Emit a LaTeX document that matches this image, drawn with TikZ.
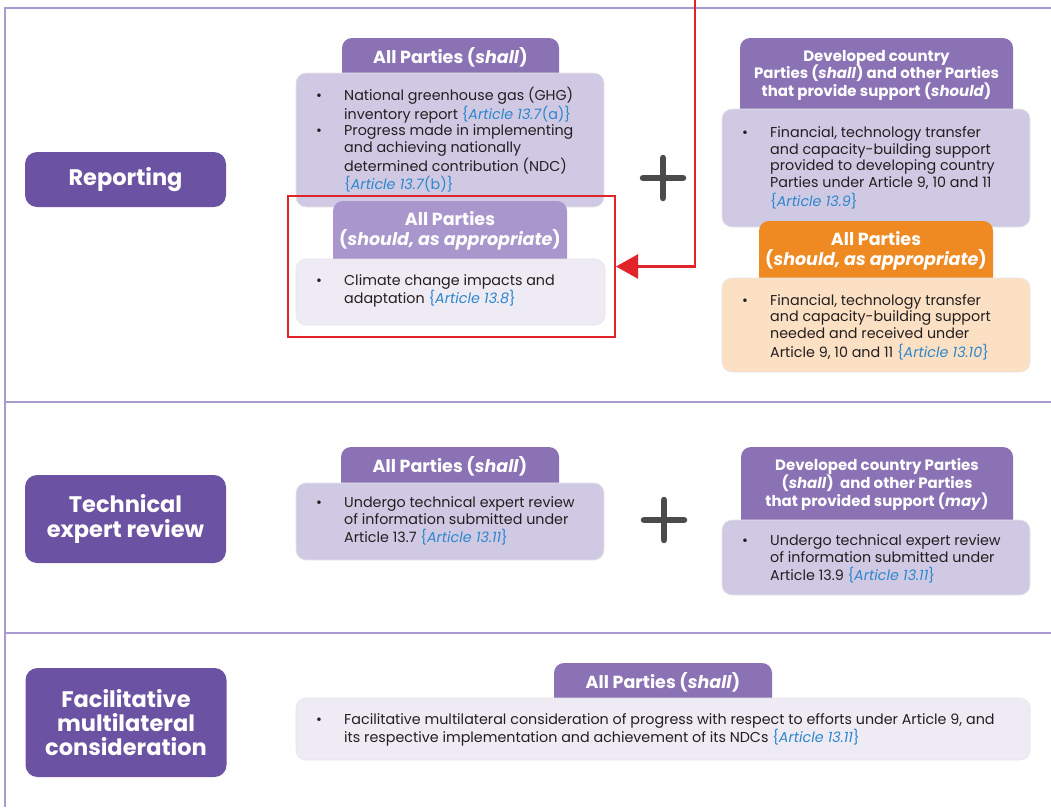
\documentclass[tikz,border=0pt]{standalone}
\usepackage{fontspec}
\setmainfont{Poppins}
\usetikzlibrary{arrows.meta}

\definecolor{labpurple}{HTML}{6B52A2}
\definecolor{tabpurple}{HTML}{8A72B5}
\definecolor{tablight}{HTML}{A996CC}
\definecolor{bodypurple}{HTML}{D0C9E4}
\definecolor{bodylight}{HTML}{EEEBF5}
\definecolor{taborange}{HTML}{EF8A23}
\definecolor{bodyorange}{HTML}{FCE0C3}
\definecolor{framepurple}{HTML}{A99AD4}
\definecolor{arrowred}{HTML}{E1232A}
\definecolor{refblue}{HTML}{2D87CC}
\definecolor{plusgray}{HTML}{4B4B4B}
\definecolor{txtdark}{HTML}{231F20}

\newcommand{\artref}[2]{\textcolor{refblue}{\{\textit{Article #1}#2\}}}
\newcommand{\bullist}[1]{\begin{tabular}[t]{@{}p{28pt}@{}l@{}}#1\end{tabular}}

\begin{document}
\begin{tikzpicture}[x=1pt,y=-1pt,
  frame/.style={draw=framepurple,line width=2pt},
  rowlab/.style={rectangle,rounded corners=12pt,fill=labpurple,text=white,align=center,font=\fontsize{22.5}{24.3}\selectfont\bfseries,minimum width=201pt,inner sep=0pt},
  tabbox/.style={rectangle,rounded corners=10pt,inner sep=0pt},
  tabtxt/.style={text=white,align=center,inner sep=0pt,anchor=base,font=\fontsize{17.5}{20}\selectfont\bfseries},
  tabsmall/.style={tabtxt,font=\fontsize{15}{17.8}\selectfont\bfseries},
  bodybox/.style={rectangle,rounded corners=10pt,draw=black!10,line width=0.6pt,inner sep=0pt},
  bodytxt/.style={anchor=base west,inner sep=0pt,text=txtdark,font=\fontsize{14.3}{16.8}\selectfont},
  plus/.style={line width=6.5pt,draw=plusgray,line cap=round},
  redarrow/.style={draw=arrowred,line width=2.5pt,-{Triangle[length=22pt,width=24pt]}}
]
\useasboundingbox (0,0) rectangle (1051,807);

% frame
\draw[frame] (1051,8) -- (5,8) -- (5,807);
\draw[frame] (5,402) -- (1051,402);
\draw[frame] (5,633) -- (1051,633);

% row labels
\node[rowlab,minimum height=55pt] (rep) at (125.5,179.5) {Reporting};
\node[rowlab,minimum height=88pt] (ter) at (125.5,519) {Technical\\expert review};
\node[rowlab,minimum height=109pt] (fmc) at (126,722.5) {Facilitative\\multilateral\\consideration};

%%%%%%%% reporting, left
\node[tabbox,fill=tabpurple,minimum width=217pt,minimum height=45pt] (repTabA) at (450.5,60.5) {};
\node[tabtxt] (repTabAtxt) at (450.5,63.3) {All Parties (\textit{shall})};
\node[bodybox,fill=bodypurple,minimum width=308pt,minimum height=134pt] (repBodyA) at (450,140) {};
\node[bodytxt] (repTxtA) at (316,100.7) {\bullist{%
\textbullet & National greenhouse gas (GHG)\\
 & inventory report \artref{13.7}{(a)}\\
\textbullet & Progress made in implementing\\
 & and achieving nationally\\
 & determined contribution (NDC)\\
 & \artref{13.7}{(b)}}};
\node[tabbox,fill=tablight,minimum width=234pt,minimum height=68pt] (repTabB) at (450,235) {};
% base = last line
\node[tabtxt] (repTabBtxt) at (450,245) {All Parties\\(\textit{should, as appropriate})};
\node[bodybox,fill=bodylight,minimum width=309pt,minimum height=66pt] (repBodyB) at (450.5,292) {};
\node[bodytxt] (repTxtB) at (316,285) {\bullist{%
\textbullet & Climate change impacts and\\
 & adaptation \artref{13.8}{}}};

%%%%%%%% reporting, right
\node[tabbox,fill=tabpurple,minimum width=273pt,minimum height=81pt] (repTabC) at (876.5,78.5) {};
\node[tabsmall] (repTabCtxt) at (876.5,96.7) {Developed country\\Parties (\textit{shall}) and other Parties\\that provide support (\textit{should})};
\node[bodybox,fill=bodypurple,minimum width=308pt,minimum height=118pt] (repBodyC) at (876,168) {};
\node[bodytxt] (repTxtC) at (742,137.3) {\bullist{%
\textbullet & Financial, technology transfer\\
 & and capacity-building support\\
 & provided to developing country\\
 & Parties under Article 9, 10 and 11\\
 & \artref{13.9}{}}};
\node[tabbox,fill=taborange,minimum width=234pt,minimum height=67pt] (repTabD) at (876,254.5) {};
\node[tabtxt] (repTabDtxt) at (876,265) {All Parties\\(\textit{should, as appropriate})};
\node[bodybox,fill=bodyorange,minimum width=308pt,minimum height=94pt] (repBodyD) at (876,325) {};
\node[bodytxt] (repTxtD) at (742,305) {\bullist{%
\textbullet & Financial, technology transfer\\
 & and capacity-building support\\
 & needed and received under\\
 & Article 9, 10 and 11 \artref{13.10}{}}};

\draw[plus] (643,178) -- (683,178);
\draw[plus] (663,158) -- (663,198);

%%%%%%%% technical expert review
\node[tabbox,fill=tabpurple,minimum width=218pt,minimum height=46pt] (terTabA) at (450,470) {};
\node[tabtxt] (terTabAtxt) at (450,472.3) {All Parties (\textit{shall})};
\node[bodybox,fill=bodypurple,minimum width=308pt,minimum height=77pt] (terBodyA) at (450,521.5) {};
\node[bodytxt] (terTxtA) at (316,507.5) {\bullist{%
\textbullet & Undergo technical expert review\\
 & of information submitted under\\
 & Article 13.7 \artref{13.11}{}}};

\node[tabbox,fill=tabpurple,minimum width=272pt,minimum height=83pt] (terTabB) at (877,488.5) {};
\node[tabsmall] (terTabBtxt) at (877,506) {Developed country Parties\\(\textit{shall})~ and other Parties\\that provided support (\textit{may})};
\node[bodybox,fill=bodypurple,minimum width=308pt,minimum height=75pt] (terBodyB) at (876,557.5) {};
\node[bodytxt] (terTxtB) at (742,545.5) {\bullist{%
\textbullet & Undergo technical expert review\\
 & of information submitted under\\
 & Article 13.9 \artref{13.11}{}}};

\draw[plus] (644,520) -- (684,520);
\draw[plus] (664,500) -- (664,540);

%%%%%%%% facilitative multilateral consideration
\node[tabbox,fill=tabpurple,minimum width=218pt,minimum height=45pt] (fmcTab) at (663,685.5) {};
\node[tabtxt] (fmcTabtxt) at (663,688) {All Parties (\textit{shall})};
\node[bodybox,fill=bodylight,minimum width=734pt,minimum height=62pt] (fmcBody) at (663,729) {};
\node[bodytxt] (fmcTxt) at (316,724) {\bullist{%
\textbullet & Facilitative multilateral consideration of progress with respect to efforts under Article 9, and\\
 & its respective implementation and achievement of its NDCs \artref{13.11}{}}};

% highlight
\node[rectangle,draw=arrowred,line width=2pt,minimum width=327pt,minimum height=141pt] (redbox) at (451.5,266.5) {};
\coordinate (arrtop) at (695,0);
\draw[redarrow] (arrtop) |- (redbox.east);
\end{tikzpicture}
\end{document}
